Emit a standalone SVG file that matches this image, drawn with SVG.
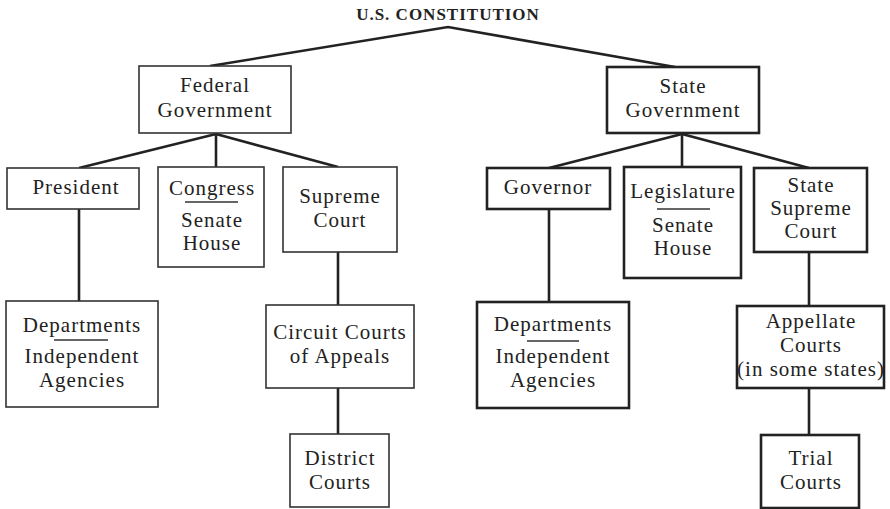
<svg xmlns="http://www.w3.org/2000/svg" width="890" height="509" viewBox="0 0 890 509">
<style>
.fb{fill:#fff;stroke:#333;stroke-width:1.6}
.sb{fill:#fff;stroke:#222;stroke-width:2.6}
.t{font-family:"Liberation Serif","Times New Roman",serif;font-size:21px;letter-spacing:1px;fill:#222;text-anchor:middle}
.title{font-family:"Liberation Serif","Times New Roman",serif;font-size:17px;font-weight:bold;letter-spacing:1px;fill:#222;text-anchor:middle}
.c{stroke:#222;stroke-width:2.6;fill:none}
.sep{stroke:#333;stroke-width:1.3}
</style>
<rect width="890" height="509" fill="#fff"/>
<text class="title" x="448" y="20">U.S. CONSTITUTION</text>
<g id="connectors">
<polyline class="c" points="210,66 448,27 675,67"/>
<line class="c" x1="216" y1="134" x2="79" y2="168"/>
<line class="c" x1="216" y1="134" x2="216" y2="167"/>
<line class="c" x1="216" y1="134" x2="338" y2="167"/>
<line class="c" x1="79" y1="209" x2="79" y2="301"/>
<line class="c" x1="338" y1="252" x2="338" y2="305"/>
<line class="c" x1="338" y1="388" x2="338" y2="434"/>
<line class="c" x1="682" y1="134" x2="549" y2="168"/>
<line class="c" x1="682" y1="134" x2="682" y2="167"/>
<line class="c" x1="682" y1="134" x2="809" y2="168"/>
<line class="c" x1="549" y1="209" x2="549" y2="302"/>
<line class="c" x1="809" y1="252" x2="809" y2="306"/>
<line class="c" x1="809" y1="388" x2="809" y2="435"/>
</g>
<g id="federal">
<rect class="fb" x="139" y="66" width="152" height="67"/>
<text class="t" x="215" y="92">Federal</text>
<text class="t" x="215" y="117">Government</text>
</g>
<g id="president">
<rect class="fb" x="7" y="168" width="132" height="41"/>
<text class="t" x="76" y="194">President</text>
</g>
<g id="congress">
<rect class="fb" x="158" y="167" width="106" height="100"/>
<text class="t" x="212" y="195">Congress</text>
<line class="sep" x1="185" y1="202" x2="238" y2="202"/>
<text class="t" x="212" y="227">Senate</text>
<text class="t" x="212" y="250">House</text>
</g>
<g id="supreme">
<rect class="fb" x="283" y="167" width="114" height="85"/>
<text class="t" x="340" y="203">Supreme</text>
<text class="t" x="340" y="227">Court</text>
</g>
<g id="fed-departments">
<rect class="fb" x="6" y="301" width="152" height="106"/>
<text class="t" x="82" y="332">Departments</text>
<line class="sep" x1="54" y1="340" x2="108" y2="340"/>
<text class="t" x="82" y="363">Independent</text>
<text class="t" x="82" y="387">Agencies</text>
</g>
<g id="circuit">
<rect class="fb" x="266" y="305" width="148" height="83"/>
<text class="t" x="340" y="339">Circuit Courts</text>
<text class="t" x="340" y="363">of Appeals</text>
</g>
<g id="district">
<rect class="fb" x="290" y="434" width="99" height="73"/>
<text class="t" x="340" y="465">District</text>
<text class="t" x="340" y="489">Courts</text>
</g>
<g id="state">
<rect class="sb" x="607" y="67" width="152" height="66"/>
<text class="t" x="683" y="93">State</text>
<text class="t" x="683" y="117">Government</text>
</g>
<g id="governor">
<rect class="sb" x="487" y="168" width="123" height="41"/>
<text class="t" x="548" y="194">Governor</text>
</g>
<g id="legislature">
<rect class="sb" x="624" y="167" width="117" height="111"/>
<text class="t" x="683" y="198">Legislature</text>
<line class="sep" x1="657" y1="209" x2="710" y2="209"/>
<text class="t" x="683" y="232">Senate</text>
<text class="t" x="683" y="255">House</text>
</g>
<g id="state-supreme">
<rect class="sb" x="754" y="168" width="113" height="84"/>
<text class="t" x="811" y="192">State</text>
<text class="t" x="811" y="215">Supreme</text>
<text class="t" x="811" y="238">Court</text>
</g>
<g id="state-departments">
<rect class="sb" x="477" y="302" width="152" height="106"/>
<text class="t" x="553" y="331">Departments</text>
<line class="sep" x1="527" y1="341" x2="579" y2="341"/>
<text class="t" x="553" y="363">Independent</text>
<text class="t" x="553" y="387">Agencies</text>
</g>
<g id="appellate">
<rect class="sb" x="737" y="306" width="147" height="82"/>
<text class="t" x="811" y="328">Appellate</text>
<text class="t" x="811" y="352">Courts</text>
<text class="t" x="811" y="376">(in some states)</text>
</g>
<g id="trial">
<rect class="sb" x="761" y="435" width="98" height="73"/>
<text class="t" x="811" y="465">Trial</text>
<text class="t" x="811" y="489">Courts</text>
</g>
</svg>
